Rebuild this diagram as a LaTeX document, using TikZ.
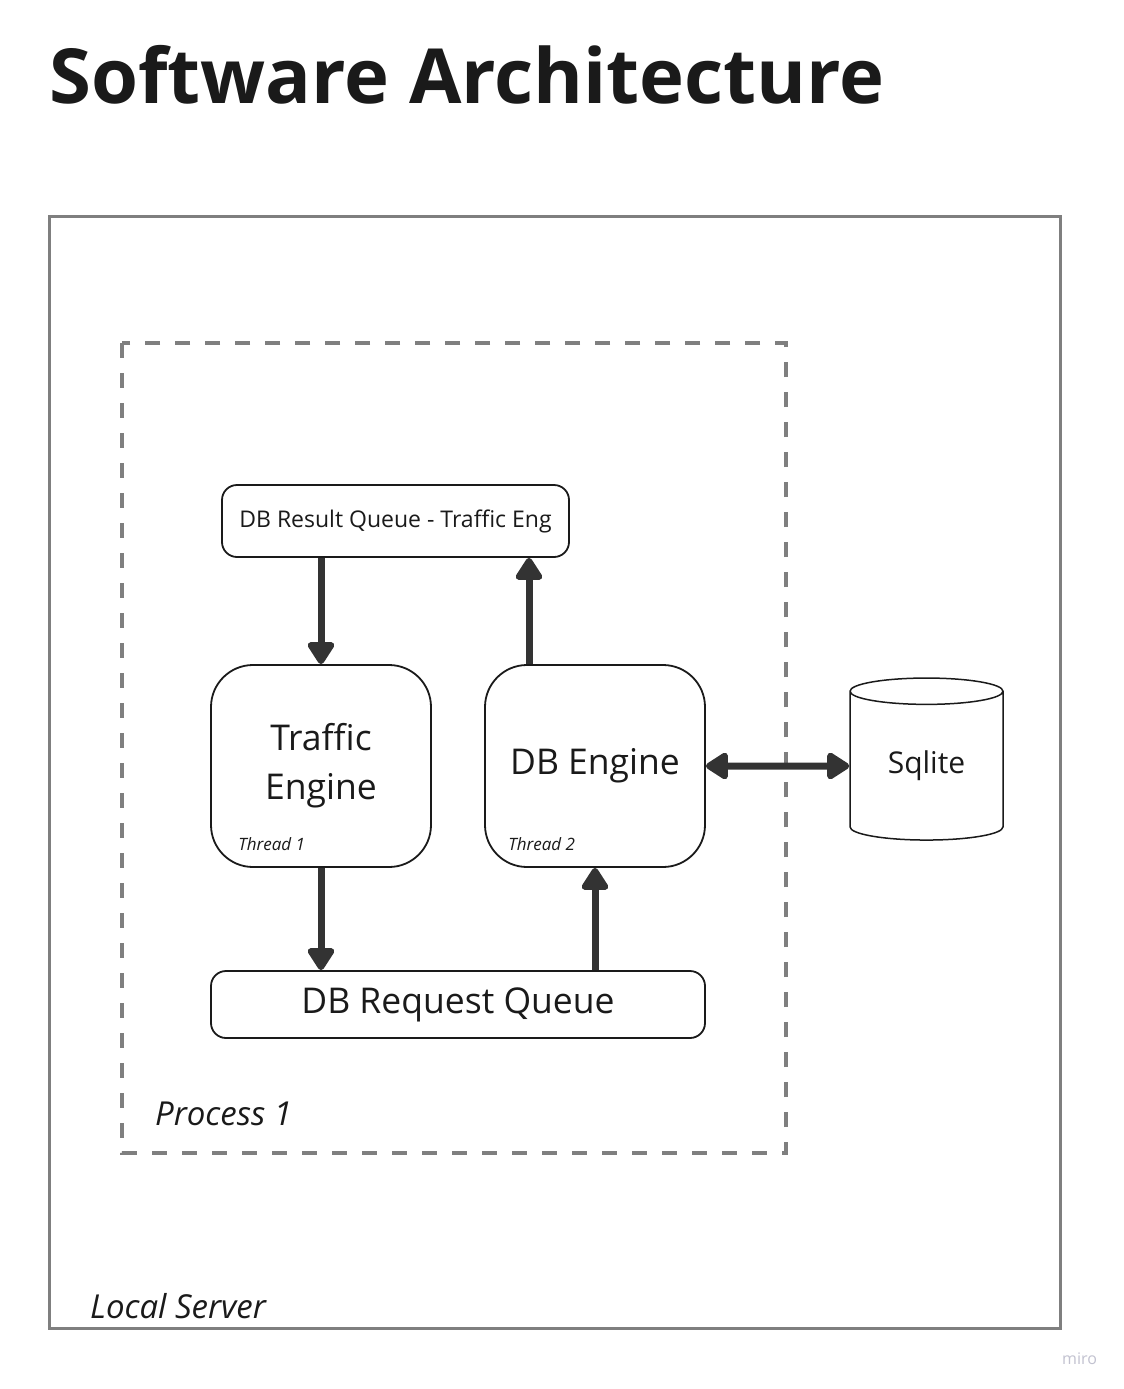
\documentclass[tikz,border=0pt]{standalone}
\usepackage{fontspec}
\setmainfont{Open Sans}
\usetikzlibrary{positioning,arrows.meta,shapes.geometric}
\definecolor{ink}{HTML}{1A1A1A}
\definecolor{arrowgray}{HTML}{333333}
\definecolor{framegray}{HTML}{7F7F7F}
\definecolor{mirogray}{HTML}{C2C2D0}
\tikzset{bigtip/.tip={Triangle[round,length=25pt,width=30pt]}}

\begin{document}
\begin{tikzpicture}[x=1pt,y=-1pt,on grid,
    box/.style={draw=ink,line width=1.8pt,rounded corners=15pt,inner sep=0pt,text=ink},
    engine/.style={box,rounded corners=42pt,minimum width=220pt,minimum height=202pt,
      align=center,font=\fontsize{35.5}{49}\selectfont},
    thread/.style={inner sep=0pt,anchor=base west,text=ink,font=\fontsize{17}{20}\selectfont\itshape},
    framelabel/.style={inner sep=0pt,anchor=base west,text=ink,font=\fontsize{33}{39}\selectfont\itshape},
    flow/.style={line width=7pt,draw=arrowgray,-{bigtip}}]
  \useasboundingbox (0,0) rectangle (1124,1389);
  \fill[white] (0,0) rectangle (1124,1389);

  \node[inner sep=0pt,anchor=base west,text=ink,font=\fontsize{76}{90}\selectfont\bfseries]
    (title) at (49,103) {Software Architecture};

  % frames
  \draw[framegray,line width=3pt] (49,216) rectangle (1060,1328);
  \draw[framegray,line width=3.5pt,dash pattern=on 15pt off 15pt] (122,343) rectangle (786,1153);
  \node[framelabel] (server) at (90,1318) {Local Server};
  \node[framelabel] (process) at (155,1125) {Process 1};

  % engines and queues
  \node[engine] (traffic) at (321,766) {Traffic\\Engine};
  \node[engine] (dbengine) [right=274pt of traffic] {DB Engine};
  \node[box,minimum width=347pt,minimum height=72pt,font=\fontsize{23}{28}\selectfont]
    (resultq) [above right=245pt and 74.5pt of traffic] {DB Result Queue - Traffic Eng};
  \node[box,minimum width=494pt,minimum height=67pt,font=\fontsize{35.5}{42}\selectfont]
    (requestq) [below right=238.5pt and 137pt of traffic] {DB Request Queue};
  \node[cylinder,shape border rotate=90,aspect=0.34,draw=ink,line width=1.5pt,
    minimum width=153pt,minimum height=162pt,inner sep=0pt,text=ink,
    font=\fontsize{30}{36}\selectfont] (sqlite) [right=331.5pt of dbengine] {Sqlite};

  \node[thread] (thread1) at ([shift={(28pt,17pt)}]traffic.south west) {Thread 1};
  \node[thread] (thread2) at ([shift={(24pt,17pt)}]dbengine.south west) {Thread 2};

  % connectors
  \draw[flow] (resultq.south -| traffic.north) -- (traffic.north);
  \draw[flow] ([xshift=-66pt]dbengine.north) -- ([xshift=-66pt]dbengine.north |- resultq.south);
  \draw[flow] (traffic.south) -- (traffic.south |- requestq.north);
  \draw[flow] (requestq.north -| dbengine.south) -- (dbengine.south);
  \draw[flow,{bigtip}-{bigtip}] (dbengine.east) -- (sqlite.west);

  \node[inner sep=0pt,anchor=base west,text=mirogray,font=\fontsize{16}{19}\selectfont]
    (miro) at (1062,1364) {miro};
\end{tikzpicture}
\end{document}
